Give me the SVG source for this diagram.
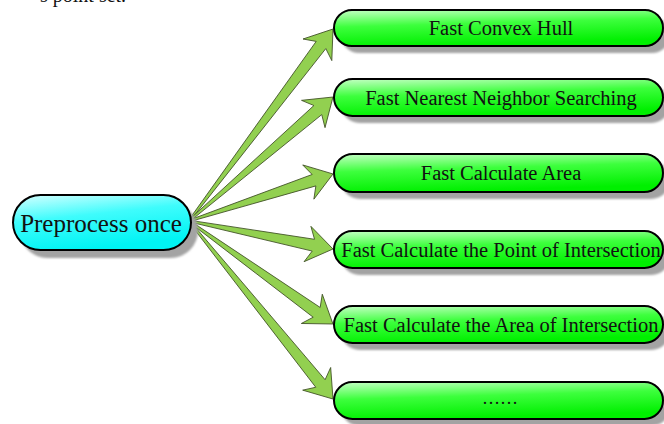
<svg xmlns="http://www.w3.org/2000/svg" width="664" height="424" viewBox="0 0 664 424">
  <style>
    .lbl { font-family: "Liberation Serif", "Times New Roman", serif; fill: #111; text-anchor: middle; }
    .task .box { fill: url(#gGreen); stroke: #000; stroke-width: 2; }
    .task .lbl { font-size: 20.5px; }
    .shadow { fill: #a3a3a3; filter: url(#soft); }
    .arrow { fill: #92d050; stroke: #3f4f25; stroke-width: 0.8; stroke-linejoin: miter; }
  </style>
  <defs>
    <linearGradient id="gGreen" x1="0" y1="0" x2="0.25" y2="1">
      <stop offset="0" stop-color="#c6ffc6"/>
      <stop offset="0.45" stop-color="#3dff3d"/>
      <stop offset="1" stop-color="#00f000"/>
    </linearGradient>
    <linearGradient id="gCyan" x1="0" y1="0" x2="0.35" y2="1">
      <stop offset="0" stop-color="#d8ffff"/>
      <stop offset="0.45" stop-color="#3ffcfc"/>
      <stop offset="1" stop-color="#00f4f4"/>
    </linearGradient>
    <filter id="soft" x="-5%" y="-20%" width="110%" height="140%">
      <feGaussianBlur stdDeviation="0.8"/>
    </filter>
  </defs>

  <rect width="664" height="424" fill="#fff"/>

  <!-- running text above the figure, clipped by the top edge -->
  <text class="lbl" x="40" y="2" font-size="20" style="text-anchor:start">s point set.</text>

  <!-- tapered arrows fanning out from the source node -->
  <g id="connectors">
    <path class="arrow" transform="translate(189 221) rotate(-53.13)" d="M0,-0.8 L220,-6 L214,-18 L240,0 L214,18 L220,6 L0,0.8 Z"/>
    <path class="arrow" transform="translate(189 221) rotate(-40.73)" d="M0,-0.8 L170,-6 L164,-18 L190,0 L164,18 L170,6 L0,0.8 Z"/>
    <path class="arrow" transform="translate(189 221) rotate(-18.08)" d="M0,-0.8 L131.5,-6 L125.5,-18 L151.5,0 L125.5,18 L131.5,6 L0,0.8 Z"/>
    <path class="arrow" transform="translate(189 221) rotate(11.0)" d="M0,-0.8 L126.7,-6 L120.7,-18 L146.7,0 L120.7,18 L126.7,6 L0,0.8 Z"/>
    <path class="arrow" transform="translate(189 221) rotate(35.58)" d="M0,-0.8 L157,-6 L151,-18 L177,0 L151,18 L157,6 L0,0.8 Z"/>
    <path class="arrow" transform="translate(189 221) rotate(51.03)" d="M0,-0.8 L209,-6 L203,-18 L229,0 L203,18 L209,6 L0,0.8 Z"/>
  </g>

  <g id="preprocess">
    <rect class="shadow" x="20" y="203" width="178" height="55" rx="27.5"/>
    <rect x="13" y="195" width="178" height="55" rx="27.5" fill="url(#gCyan)" stroke="#000" stroke-width="2"/>
    <text class="lbl" x="101" y="232" font-size="25">Preprocess once</text>
  </g>

  <g id="task-convex-hull" class="task">
    <rect class="shadow" x="341" y="17" width="329" height="36" rx="18"/>
    <rect class="box" x="334" y="10" width="329" height="36" rx="18"/>
    <text class="lbl" x="501" y="34.5">Fast Convex Hull</text>
  </g>

  <g id="task-nearest-neighbor" class="task">
    <rect class="shadow" x="341" y="86" width="329" height="37" rx="18.5"/>
    <rect class="box" x="334" y="79" width="329" height="37" rx="18.5"/>
    <text class="lbl" x="501" y="104.5">Fast Nearest Neighbor Searching</text>
  </g>

  <g id="task-area" class="task">
    <rect class="shadow" x="341" y="161" width="329" height="38" rx="19"/>
    <rect class="box" x="334" y="154" width="329" height="38" rx="19"/>
    <text class="lbl" x="501" y="179.5">Fast Calculate Area</text>
  </g>

  <g id="task-point-intersection" class="task">
    <rect class="shadow" x="341" y="238" width="329" height="37" rx="18.5"/>
    <rect class="box" x="334" y="231" width="329" height="37" rx="18.5"/>
    <text class="lbl" x="501" y="256.5">Fast Calculate the Point of Intersection</text>
  </g>

  <g id="task-area-intersection" class="task">
    <rect class="shadow" x="341" y="313" width="329" height="37" rx="18.5"/>
    <rect class="box" x="334" y="306" width="329" height="37" rx="18.5"/>
    <text class="lbl" x="501" y="331.5">Fast Calculate the Area of Intersection</text>
  </g>

  <g id="task-more" class="task">
    <rect class="shadow" x="341" y="389" width="329" height="37" rx="18.5"/>
    <rect class="box" x="334" y="382" width="329" height="37" rx="18.5"/>
    <text class="lbl" x="500" y="404" style="font-size:18px">……</text>
  </g>
</svg>
